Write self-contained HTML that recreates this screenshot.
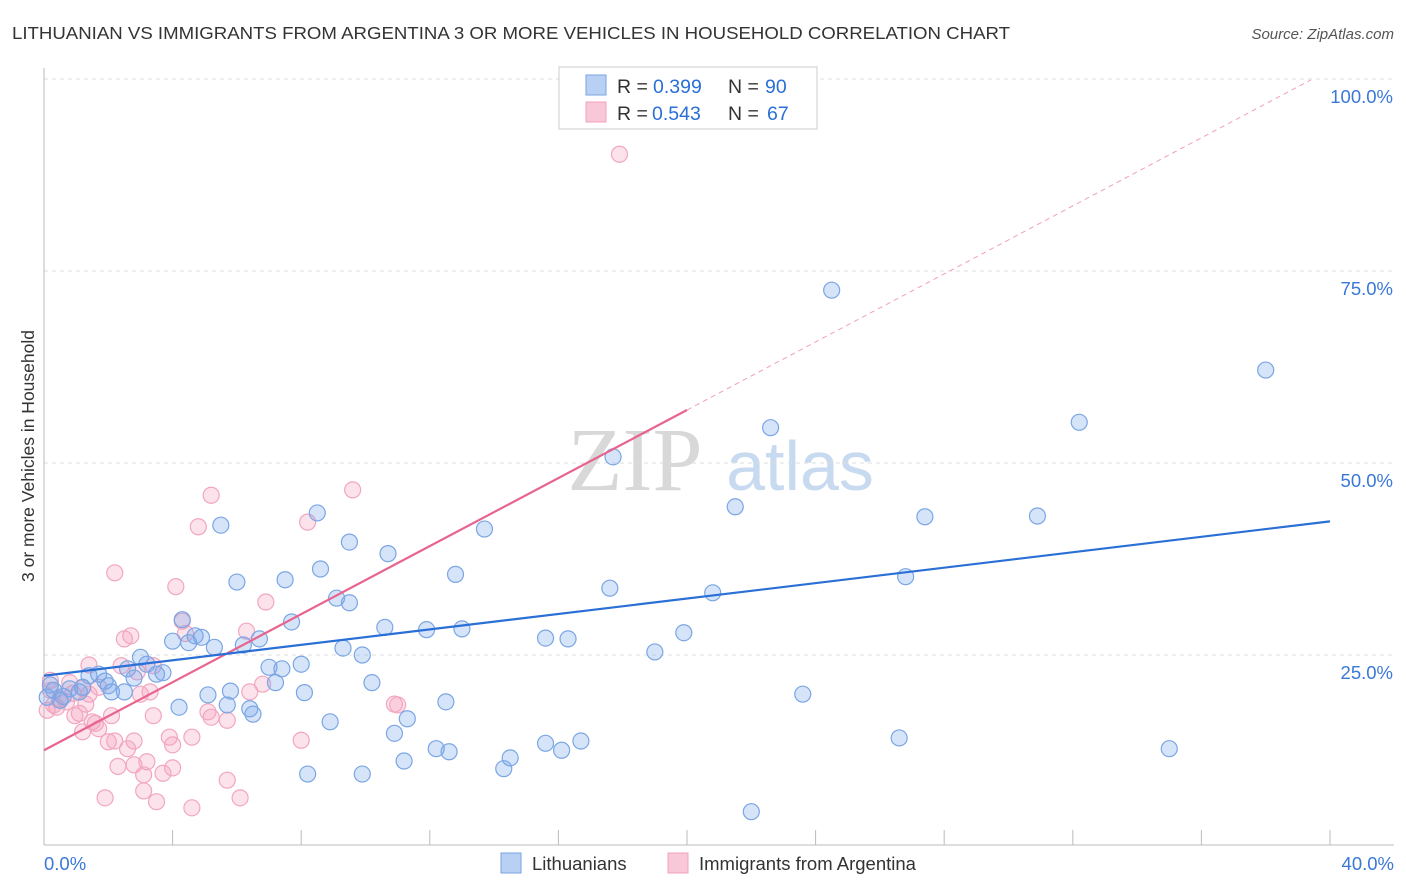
<!DOCTYPE html>
<html><head><meta charset="utf-8"><style>
body{margin:0;background:#fff;font-family:"Liberation Sans",sans-serif}
svg{display:block}
</style></head><body>
<svg id="c" width="1406" height="892">
<text x="12" y="39" font-size="17.5" fill="#333" textLength="998" lengthAdjust="spacingAndGlyphs">LITHUANIAN VS IMMIGRANTS FROM ARGENTINA 3 OR MORE VEHICLES IN HOUSEHOLD CORRELATION CHART</text>
<text x="1394" y="39" font-size="15" fill="#555" font-style="italic" text-anchor="end">Source: ZipAtlas.com</text>
<text x="34" y="456" font-size="17.5" fill="#333" text-anchor="middle" transform="rotate(-90 34 456)">3 or more Vehicles in Household</text>
<text x="635" y="490" font-size="90" fill="#d8d8d8" font-family="Liberation Serif,serif" text-anchor="middle">ZIP</text>
<text x="800" y="490" font-size="70" fill="#c8daf0" text-anchor="middle">atlas</text>
<g id="grid"></g><g id="pts"></g><g id="lines"></g>
<g font-size="19.5">
<rect x="559" y="67" width="258" height="62" fill="#fff" stroke="#ccc"/>
<rect x="586" y="75" width="20" height="20" fill="#b8d0f4" stroke="#7aa3e0"/>
<rect x="586" y="102" width="20" height="20" fill="#f8c8d8" stroke="#f0a0bc"/>
<text x="617" y="93" fill="#333">R =</text><text x="653" y="93" fill="#2a6fd6">0.399</text>
<text x="728" y="93" fill="#333">N =</text><text x="765" y="93" fill="#2a6fd6">90</text>
<text x="617" y="120" fill="#333">R =</text><text x="652" y="120" fill="#2a6fd6">0.543</text>
<text x="728" y="120" fill="#333">N =</text><text x="767" y="120" fill="#2a6fd6">67</text>
</g>
<g>
<rect x="501" y="853" width="20" height="20" fill="#b8d0f4" stroke="#7aa3e0"/>
<text x="532" y="870" font-size="18.5" fill="#333">Lithuanians</text>
<rect x="668" y="853" width="20" height="20" fill="#f8c8d8" stroke="#f0a0bc"/>
<text x="699" y="870" font-size="18.5" fill="#333">Immigrants from Argentina</text>
</g>
</svg>
<script>
const blueX=[24.5,38.0,32.2,22.6,17.7,21.5,27.4,30.9,13.7,5.5,8.5,9.5,10.7,12.8,6.0,7.5,8.6,17.6,26.8,20.8,9.1,9.5,7.7,10.6,11.9,13.0,15.6,16.3,19.9,19.0,4.3,4.7,4.5,4.9,5.3,6.2,6.7,9.3,9.9,8.0,7.0,7.4,7.2,10.2,3.0,3.2,4.0,2.6,3.5,3.7,2.8,1.7,1.4,1.9,2.1,2.5,0.8,1.1,0.3,0.1,0.5,0.2,5.1,5.8,8.1,4.2,5.7,6.4,6.5,12.5,8.9,11.3,10.9,23.6,12.2,12.6,11.2,14.5,15.6,16.1,16.7,26.6,35.0,8.2,9.9,14.3,22.0,1.2,0.6,2.0];
const blueY=[72.5,62.1,55.3,54.6,50.8,44.3,43.0,43.1,41.4,41.9,43.5,39.7,38.2,35.5,34.5,34.8,36.2,33.7,35.2,33.1,32.4,31.8,29.3,28.6,28.3,28.4,27.2,27.1,27.9,25.4,29.6,27.5,26.6,27.3,26.0,26.3,27.1,25.9,25.0,23.8,23.4,23.2,21.4,21.4,24.7,23.8,26.8,23.2,22.5,22.7,22.0,22.5,22.3,21.6,20.2,20.2,20.6,20.2,20.4,19.5,19.1,21.1,19.8,20.3,20.1,18.2,18.5,18.0,17.3,18.9,16.3,16.7,14.8,19.9,12.8,12.4,11.2,11.6,13.5,12.6,13.8,14.2,12.8,9.5,9.5,10.2,4.6,20.8,19.6,21.0];
const pinkX=[17.9,9.6,5.2,8.2,4.8,2.2,4.1,6.9,4.3,2.7,2.5,4.4,6.3,1.4,2.4,3.4,6.8,6.4,3.3,3.0,0.8,1.2,1.7,1.4,0.2,0.2,0.4,0.7,0.3,1.1,0.96,2.1,3.4,5.1,5.2,5.7,10.9,11.0,1.5,1.6,1.7,1.2,2.0,2.2,2.8,3.9,4.0,4.6,8.0,2.6,2.3,2.8,3.2,4.0,3.7,3.1,5.7,3.1,1.9,3.5,4.6,6.1,0.1,0.5,0.9,1.3,2.9];
const pinkY=[90.2,46.5,45.8,42.3,41.7,35.7,33.9,31.9,29.4,27.5,27.1,27.8,28.1,23.7,23.6,23.6,21.2,20.2,20.2,19.9,21.4,20.7,20.8,19.9,21.7,20.4,18.2,18.9,18.5,17.4,17.1,17.1,17.1,17.6,16.9,16.5,18.6,18.5,16.3,16.1,15.4,15.0,13.7,13.8,13.8,14.3,13.3,14.3,13.9,12.8,10.5,10.7,11.1,10.3,9.6,9.4,8.7,7.3,6.4,5.9,5.1,6.4,17.8,19.3,20.0,18.6,22.8];
const yTicks=[25,50,75,100];
const xTickLabels=["0.0%","40.0%"];
const blueFit=[22.3,42.4], pinkFit=[12.6,56.9];
const X=v=>44+v*32.15, Y=v=>847-v*7.68;
const NS="http://www.w3.org/2000/svg";
function mk(t,a,p){const e=document.createElementNS(NS,t);for(const k in a)e.setAttribute(k,a[k]);p.appendChild(e);return e;}
const g=document.getElementById('grid');
yTicks.forEach(t=>{
 const l=mk('line',{x1:44,x2:1394,y1:Y(t),y2:Y(t),stroke:'#ddd','stroke-dasharray':'4,4'},g);
 
 
 const tx=mk('text',{x:1393,y:Y(t)+24,'font-size':18.5,fill:'#3a78d8','text-anchor':'end'},g);tx.textContent=t.toFixed(1)+'%';
 
 
});
const ax=mk('line',{x1:44,x2:1394,y1:845,y2:845,stroke:'#bbb'},g);


const ay=mk('line',{x1:44,x2:44,y1:68,y2:845,stroke:'#bbb'},g);


for(let i=0;i<=10;i++){const l=mk('line',{x1:X(i*4),x2:X(i*4),y1:830,y2:845,stroke:'#bbb'},g);
 
 }
[[0,'start',44],[40,'end',1394]].forEach((d,i)=>{const t=mk('text',{x:d[2],y:870,'font-size':18.5,fill:'#3a78d8','text-anchor':d[1]},g);t.textContent=xTickLabels[i];
 
 });
const p=document.getElementById('pts');
pinkX.forEach((x,i)=>{const c=mk('circle',{cx:X(x),cy:Y(pinkY[i]),r:8,fill:'rgba(244,160,190,0.3)',stroke:'#f2a6c0','stroke-width':1.2},p);
 
 });
blueX.forEach((x,i)=>{const c=mk('circle',{cx:X(x),cy:Y(blueY[i]),r:8,fill:'rgba(120,165,235,0.3)',stroke:'#7aa6e4','stroke-width':1.2},p);
 
 });
const L=document.getElementById('lines');
const pf=v=>pinkFit[0]+(pinkFit[1]-pinkFit[0])*v/20;
let e=mk('line',{x1:X(20),y1:Y(pf(20)),x2:X(39.4),y2:Y(pf(39.4)),stroke:'#f0a0bc','stroke-dasharray':'5,4','stroke-width':1},L);


e=mk('line',{x1:X(0),y1:Y(pf(0)),x2:X(20),y2:Y(pf(20)),stroke:'#e8648e','stroke-width':2.2},L);


e=mk('line',{x1:X(0),y1:Y(blueFit[0]),x2:X(40),y2:Y(blueFit[1]),stroke:'#2a6fd6','stroke-width':2.2},L);


</script>
</body></html>
